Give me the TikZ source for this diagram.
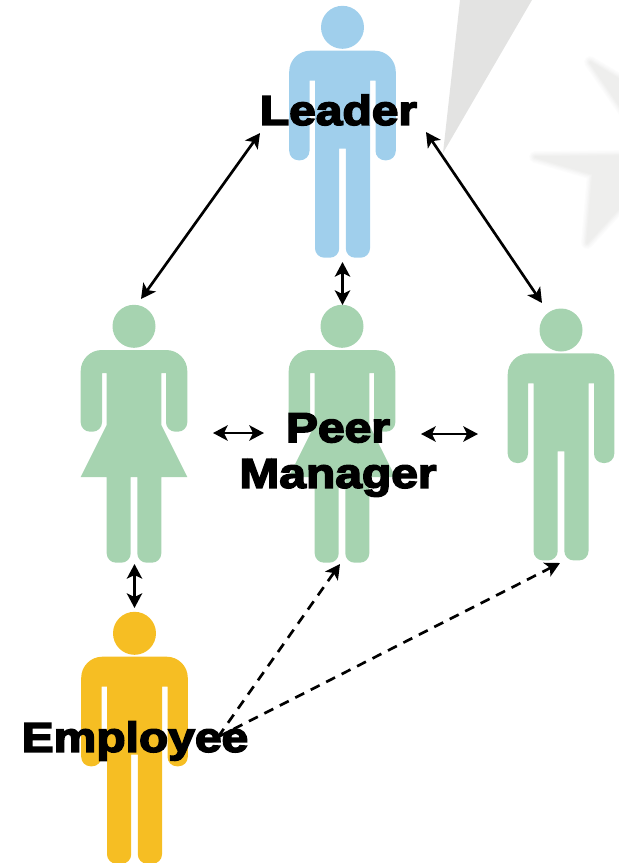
\documentclass[tikz,border=0pt]{standalone}
\usepackage{xcolor}
\usepackage{fontspec}
\usetikzlibrary{arrows.meta}
\newfontface\labelfont[FakeBold=4,FakeStretch=1.15]{Liberation Sans Bold}
\definecolor{leaderblue}{HTML}{A0CFEC}
\definecolor{peergreen}{HTML}{A6D3B0}
\definecolor{staffyellow}{HTML}{F6BE23}
\definecolor{wedgegrey}{HTML}{E3E3E2}
\tikzset{
	figlabel/.style={font=\labelfont\fontsize{35.6}{39}\selectfont,align=center,text=black,inner sep=0pt},
	wedgeblur/.style 2 args={draw=wedgegrey!#1,fill=wedgegrey!#1,line width=#2,line join=round},
	dashline/.style={dash pattern=on 3mm off 2.2mm},
	pics/man/.style={code={
		\node (-head) at (0,0) [circle,pic actions,inner sep=0pt,minimum size=43*0.3mm] {};
		\fill[pic actions] (-3.3,121.4) [rounded corners=8pt] -- (-3.3,230.4) -- (-27.5,230.4) [sharp corners] -- (-27.5,53.4) -- (-33,53.4) [rounded corners=8pt] -- (-33,133) -- (-53.3,133) [rounded corners=18pt] -- (-53.3,23.4) -- (53.3,23.4) [rounded corners=8pt] -- (53.3,133) -- (33,133) [sharp corners] -- (33,53.4) -- (27.5,53.4) [rounded corners=8pt] -- (27.5,230.4) -- (3.3,230.4) [sharp corners] -- (3.3,121.4) -- cycle;
	}},
	pics/woman/.style={code={
		\node (-head) at (0,0) [circle,pic actions,inner sep=0pt,minimum size=43*0.3mm] {};
		\fill[pic actions] (-3.3,150.7) [rounded corners=8pt] -- (-3.3,236.4) -- (-27.3,236.4) [sharp corners] -- (-27.3,150.7) -- (-53.3,150.7) -- (-27.3,98.7) -- (-27.3,46.7) -- (-32,46.7) [rounded corners=8pt] -- (-32,105.4) -- (-53.3,105.4) [rounded corners=18pt] -- (-53.3,23.7) -- (53.3,23.7) [rounded corners=8pt] -- (53.3,105.4) -- (32,105.4) [sharp corners] -- (32,46.7) -- (27.3,46.7) -- (27.3,98.7) -- (53.3,150.7) -- (27.3,150.7) [rounded corners=8pt] -- (27.3,236.4) -- (3.3,236.4) [sharp corners] -- (3.3,150.7) -- cycle;
	}},
}
\begin{document}
\begin{tikzpicture}[x=0.03cm,y=-0.03cm,>={Stealth[length=4.4mm,width=4.6mm,inset=1.1mm]},line width=0.8mm]
	\useasboundingbox (0,0) rectangle (619,863);
	% grey shapes behind
	\begin{scope}
		\clip (0,0) rectangle (619,863);
		\fill[wedgegrey] (460,0) -- (532,0) -- (443,153) -- cycle;
		\foreach \t/\w in {10/3.6mm,20/2.8mm,35/2mm,50/1.2mm,62/0.4mm} {
			\path[wedgeblur={\t}{\w}] (590,62) -- (640,92) -- (640,135) -- cycle;
			\path[wedgeblur={\t}{\w}] (535,157) -- (640,156) -- (640,185) -- (587,243) -- (593,174) -- cycle;
		}
	\end{scope}
	% people
	\pic[fill=leaderblue] (leader) at (342.5,27.3) {man};
	\pic[fill=peergreen] (peerL) at (134,326.3) {woman};
	\pic[fill=peergreen] (peerM) at (342,326.3) {woman};
	\pic[fill=peergreen] (peerR) at (561,330) {man};
	\pic[fill=staffyellow] (staff) at (134.5,633.3) {man};
	% labels
	\node (leadertxt) at (338.5,110) [figlabel] {Leader};
	\node (managertxt) at (338,455) [figlabel] {Peer\\Manager};
	\node (stafftxt) at (135,741) [figlabel] {Employee};
	% arrow ends
	\coordinate (a) at (260,133);
	\coordinate (b) at (141,299);
	\coordinate (c) at (426,132);
	\coordinate (d) at (542,303);
	\coordinate (e) at (342.5,262);
	\coordinate (f) at (342.5,305);
	\coordinate (g) at (213,433);
	\coordinate (h) at (264,433);
	\coordinate (i) at (421,434);
	\coordinate (j) at (478,434);
	\coordinate (k) at (134.5,564);
	\coordinate (l) at (134.5,608);
	\coordinate (m) at (218,737);
	\coordinate (n) at (340,564);
	\coordinate (o) at (560,563);
	\draw 
	(a) edge[<->] (b)
	(c) edge[<->] (d)
	(e) edge[<->] (f)
	(g) edge[<->] (h)
	(i) edge[<->] (j)
	(k) edge[<->] (l)
	(m) edge[->,dashline] (n)
	(m) edge[->,dashline] (o)
	;
\end{tikzpicture}
\end{document}
